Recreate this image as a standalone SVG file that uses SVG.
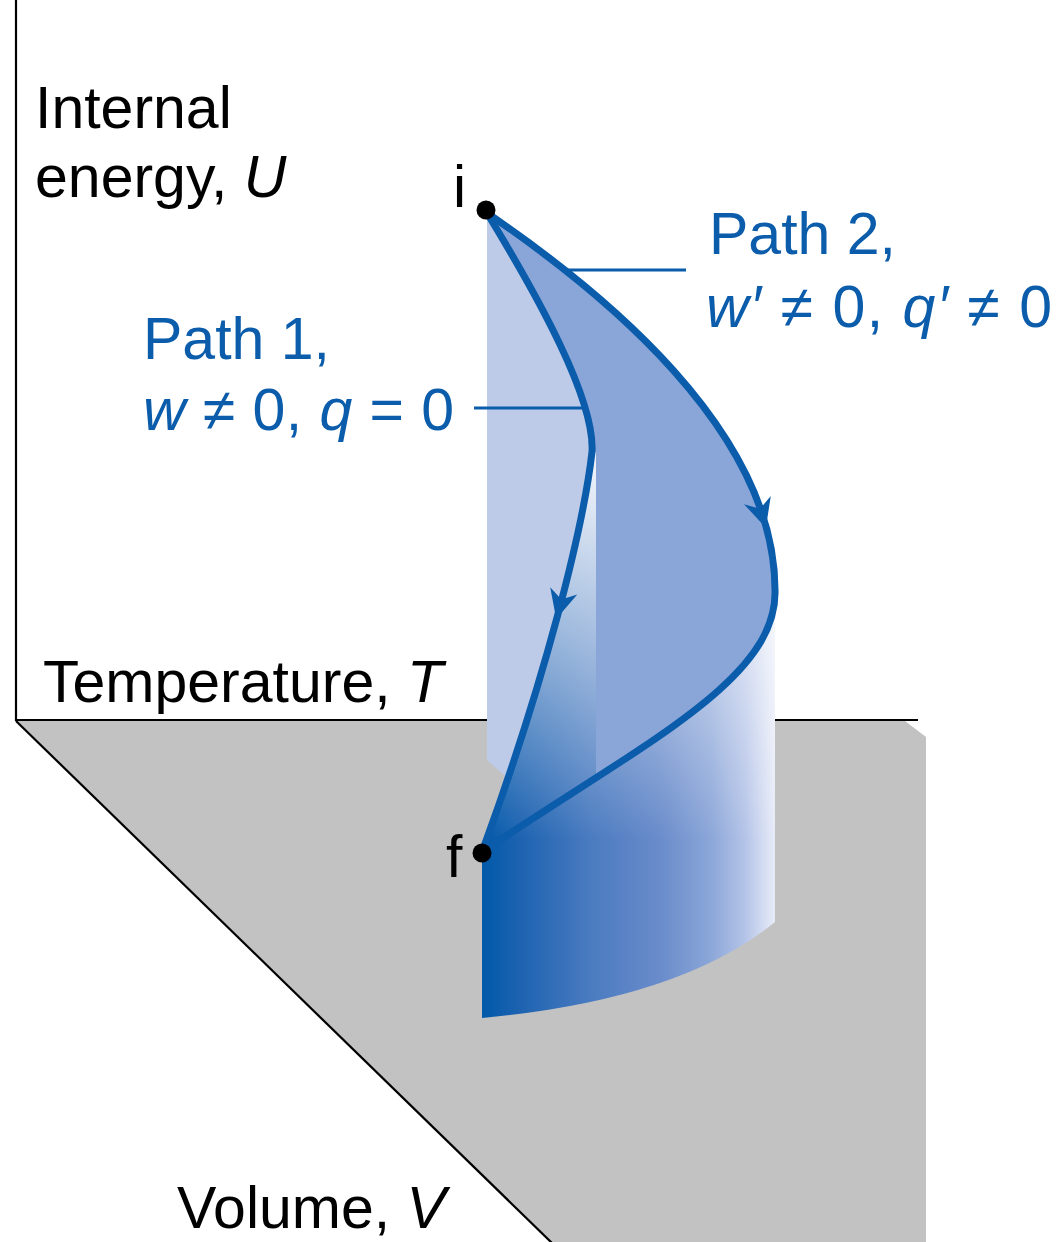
<svg xmlns="http://www.w3.org/2000/svg" width="1058" height="1242" viewBox="0 0 1058 1242">
  <style>
    .axis { stroke: #000; stroke-width: 2.2; fill: none; }
    .lbl { font-family: "Liberation Sans", Arial, Helvetica, sans-serif; font-size: 59px; fill: #000; }
    .blue { fill: #0b5cab; }
    .it { font-style: italic; }
    .path { stroke: #0b5cab; stroke-width: 7; fill: none; stroke-linecap: round; stroke-linejoin: round; }
    .leader { stroke: #0b5cab; stroke-width: 2.8; fill: none; }
    .arrow { fill: #0b5cab; }
    .dot { fill: #000; }
  </style>
  <defs>
    <linearGradient id="cylH" gradientUnits="userSpaceOnUse" x1="482" y1="0" x2="775" y2="0">
      <stop offset="0" stop-color="#0059a9"/>
      <stop offset="0.13" stop-color="#1d63b1"/>
      <stop offset="0.37" stop-color="#4a7bc0"/>
      <stop offset="0.61" stop-color="#6a8ccb"/>
      <stop offset="0.78" stop-color="#8ba6d8"/>
      <stop offset="0.9" stop-color="#b5c4e8"/>
      <stop offset="1" stop-color="#e8ecf8"/>
    </linearGradient>
    <linearGradient id="cylV" gradientUnits="userSpaceOnUse" x1="0" y1="470" x2="0" y2="840">
      <stop offset="0" stop-color="#ffffff" stop-opacity="0.9"/>
      <stop offset="0.45" stop-color="#ffffff" stop-opacity="0.5"/>
      <stop offset="1" stop-color="#ffffff" stop-opacity="0"/>
    </linearGradient>
    <clipPath id="medClip">
      <path d="M0,0 H1058 V1242 H596 V452 H0 Z"/>
    </clipPath>
    <path id="cylShape" d="M482,1018 L482,852 C545,680 583,530 592,452 L600,452 L775,600 L775,922 Q680,1000 482,1018 Z"/>
    <path id="arrowHead" d="M3,0 L-26,-14 L-17,0 L-26,14 Z"/>
  </defs>

  <!-- floor plane -->
  <g id="floor">
    <polygon points="16,721 905,721 926,737 926,1242 551,1242" fill="#c2c2c2"/>
  </g>

  <!-- axes -->
  <g id="axes">
    <line class="axis" x1="16" y1="0" x2="16" y2="721"/>
    <line class="axis" x1="15" y1="720" x2="918" y2="720"/>
    <line class="axis" x1="16" y1="721" x2="553" y2="1244"/>
  </g>

  <!-- surfaces -->
  <g id="back-plane">
    <path d="M487,213 C540,300 595,400 592,452 L596,452 L596,790 L505,776 L487,760 Z" fill="#bdcbe8"/>
  </g>
  <g id="cylinder-surface">
    <use href="#cylShape" fill="url(#cylH)"/>
    <use href="#cylShape" fill="url(#cylV)"/>
  </g>
  <g id="path-surface">
    <path clip-path="url(#medClip)" fill="#8aa6d8"
      d="M487,213 C600,290 775,430 775,590 C778,680 640,745 482,852 C545,680 583,530 592,452 C595,400 540,300 487,213 Z"/>
  </g>

  <!-- connectors -->
  <g id="connectors">
    <path id="path1" class="path" d="M487,213 C540,300 595,400 592,452 C583,530 545,680 482,852"/>
    <path id="path2" class="path" d="M487,213 C600,290 775,430 775,590 C778,680 640,745 482,852"/>
    <use href="#arrowHead" class="arrow" transform="translate(557,616) rotate(105)"/>
    <use href="#arrowHead" class="arrow" transform="translate(765,525) rotate(73)"/>
    <line class="leader" x1="474" y1="408" x2="583" y2="408"/>
    <line class="leader" x1="565" y1="270" x2="686" y2="270"/>
  </g>

  <!-- nodes -->
  <g id="node-i">
    <circle class="dot" cx="486" cy="210" r="9.5"/>
    <text class="lbl" x="453" y="207">i</text>
  </g>
  <g id="node-f">
    <circle class="dot" cx="482" cy="853" r="9.5"/>
    <text class="lbl" x="446" y="877">f</text>
  </g>

  <!-- axis labels -->
  <g id="label-U">
    <text class="lbl" x="35" y="128">Internal</text>
    <text class="lbl" x="35" y="197">energy, <tspan class="it">U</tspan></text>
  </g>
  <g id="label-T">
    <text class="lbl" x="43" y="702">Temperature, <tspan class="it">T</tspan></text>
  </g>
  <g id="label-V">
    <text class="lbl" x="177" y="1228">Volume, <tspan class="it">V</tspan></text>
  </g>

  <!-- path labels -->
  <g id="label-path1">
    <text class="lbl blue" x="143" y="359">Path 1,</text>
    <text class="lbl blue" x="143" y="430" textLength="311" lengthAdjust="spacing"><tspan class="it">w</tspan> ≠ 0, <tspan class="it">q</tspan> = 0</text>
  </g>
  <g id="label-path2">
    <text class="lbl blue" x="709" y="254">Path 2,</text>
    <text class="lbl blue" x="706" y="327" textLength="346" lengthAdjust="spacing"><tspan class="it">w′</tspan> ≠ 0, <tspan class="it">q′</tspan> ≠ 0</text>
  </g>
</svg>
